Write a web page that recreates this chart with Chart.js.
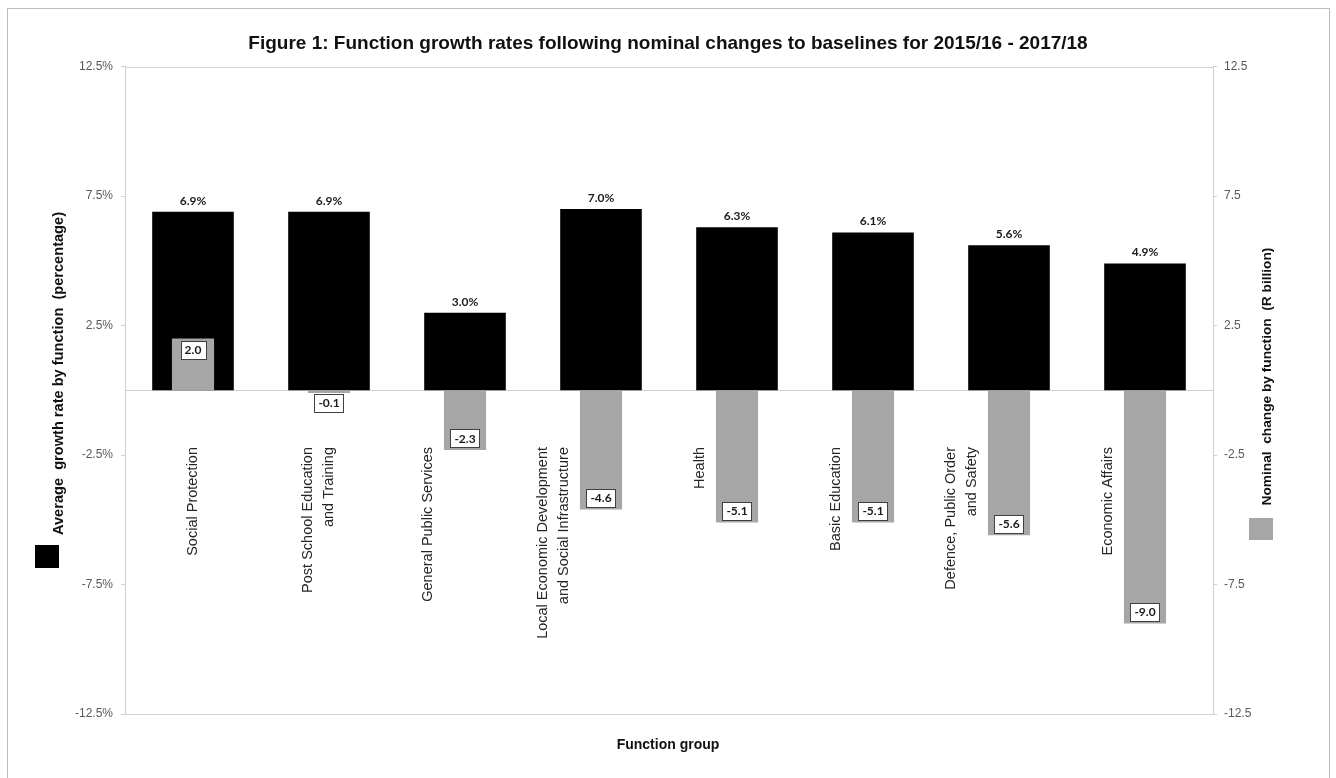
<!DOCTYPE html>
<html><head><meta charset="utf-8">
<script src="https://cdn.jsdelivr.net/npm/chart.js@4.4.0/dist/chart.umd.min.js"></script>
<style>html,body{margin:0;padding:0;background:#fff;} canvas{display:block;}</style>
</head><body>
<canvas id="c" width="1336" height="778"></canvas>
<script>
const categories = [
  ["Social Protection"],
  ["Post School Education", "and Training"],
  ["General Public Services"],
  ["Local Economic Development", "and Social Infrastructure"],
  ["Health"],
  ["Basic Education"],
  ["Defence, Public Order", "and Safety"],
  ["Economic Affairs"]
];
const growthRate = [6.9, 6.9, 3.0, 7.0, 6.3, 6.1, 5.6, 4.9];
const nominalChange = [2.0, -0.1, -2.3, -4.6, -5.1, -5.1, -5.6, -9.0];
const axisTicks = [-12.5, -7.5, -2.5, 2.5, 7.5, 12.5];
const chartTitle = "Figure 1: Function growth rates following nominal changes to baselines for 2015/16 - 2017/18";
const xTitle = "Function group";
const leftLegend = "Average  growth rate by function  (percentage)";
const rightLegend = "Nominal  change by function  (R billion)";

const SANS = "'Liberation Sans', Arial, sans-serif";
const LABEL = "Lato, 'Open Sans', sans-serif";
const labelShift = [0, 0, -37, -37, -37, -37, -37, -37];

const deco = {
  id: 'deco',
  beforeDraw(chart) {
    const ctx = chart.ctx;
    ctx.save();
    ctx.fillStyle = '#fff';
    ctx.fillRect(0, 0, chart.width, chart.height);
    ctx.strokeStyle = '#bdbdbd';
    ctx.lineWidth = 1;
    ctx.strokeRect(7.5, 8.5, 1322, 800);
    const ca = chart.chartArea;
    ctx.strokeStyle = '#d4d4d4';
    ctx.strokeRect(Math.round(ca.left) + 0.5, Math.round(ca.top) + 0.5, Math.round(ca.right - ca.left), Math.round(ca.bottom - ca.top));
    ctx.restore();
  },
  afterDatasetsDraw(chart) {
    const ctx = chart.ctx;
    ctx.save();
    const m1 = chart.getDatasetMeta(1);
    ctx.font = "bold 12px " + LABEL;
    ctx.fillStyle = '#1a1a1a';
    ctx.textAlign = 'center';
    ctx.textBaseline = 'middle';
    m1.data.forEach((bar, i) => {
      ctx.fillText(growthRate[i].toFixed(1) + '%', bar.x, bar.y - 11);
    });
    const m0 = chart.getDatasetMeta(0);
    m0.data.forEach((bar, i) => {
      const txt = nominalChange[i].toFixed(1);
      const len = Math.abs(bar.base - bar.y);
      const dir = Math.sign(bar.y - bar.base) || 1;
      const cy = len >= 24 ? bar.y - dir * 11.5 : bar.base + dir * 12.5;
      const w = ctx.measureText(txt).width + 8;
      const h = 18;
      const x0 = Math.round(bar.x - w / 2) + 0.5, y0 = Math.round(cy - h / 2) + 0.5;
      ctx.fillStyle = '#fff';
      ctx.fillRect(x0, y0, Math.round(w), h);
      ctx.strokeStyle = '#404040';
      ctx.lineWidth = 1;
      ctx.strokeRect(x0, y0, Math.round(w), h);
      ctx.fillStyle = '#1a1a1a';
      ctx.fillText(txt, bar.x, cy + 0.5);
    });
    ctx.restore();
  },
  afterDraw(chart) {
    const ctx = chart.ctx;
    const xs = chart.scales.x;
    ctx.save();
    ctx.font = "14.5px " + SANS;
    ctx.fillStyle = '#262626';
    ctx.textAlign = 'right';
    ctx.textBaseline = 'middle';
    categories.forEach((lines, i) => {
      const cx = xs.getPixelForValue(i) + labelShift[i];
      const n = lines.length;
      lines.forEach((ln, k) => {
        const x = cx - (n - 1 - k) * 21;
        ctx.save();
        ctx.translate(x, 447);
        ctx.rotate(-Math.PI / 2);
        ctx.fillText(ln, 0, 0);
        ctx.restore();
      });
    });
    ctx.fillStyle = '#000';
    ctx.fillRect(35, 545, 24, 23);
    ctx.fillStyle = '#a6a6a6';
    ctx.fillRect(1249, 518, 24, 22);
    ctx.fillStyle = '#111';
    ctx.textAlign = 'center';
    ctx.font = "bold 14.6px " + SANS;
    ctx.save();
    ctx.translate(59, 373.5);
    ctx.rotate(-Math.PI / 2);
    ctx.fillText(leftLegend, 0, 0);
    ctx.restore();
    ctx.font = "bold 13.7px " + SANS;
    ctx.save();
    ctx.translate(1267, 376.5);
    ctx.rotate(-Math.PI / 2);
    ctx.fillText(rightLegend, 0, 0);
    ctx.restore();
    ctx.restore();
  }
};

new Chart(document.getElementById('c'), {
  type: 'bar',
  data: {
    labels: categories.map(c => c.join(' ')),
    datasets: [
      {
        label: rightLegend,
        data: nominalChange,
        yAxisID: 'y1',
        backgroundColor: '#a6a6a6',
        borderWidth: 0,
        grouped: false,
        categoryPercentage: 1,
        barPercentage: 0.31,
        order: 0
      },
      {
        label: leftLegend,
        data: growthRate,
        yAxisID: 'y',
        backgroundColor: '#000',
        borderWidth: 0,
        grouped: false,
        categoryPercentage: 1,
        barPercentage: 0.6,
        order: 1
      }
    ]
  },
  options: {
    responsive: false,
    animation: false,
    layout: { padding: 0 },
    plugins: {
      legend: { display: false },
      tooltip: { enabled: false },
      title: {
        display: true,
        text: chartTitle,
        color: '#111',
        font: { family: SANS, size: 19, weight: 'bold', lineHeight: 1.2 },
        padding: { top: 32.6, bottom: 11.3 }
      },
      subtitle: {
        display: true,
        position: 'bottom',
        text: xTitle,
        color: '#111',
        font: { family: SANS, size: 14, weight: 'bold', lineHeight: 1.2 },
        padding: { top: 22.6, bottom: 24.6 }
      }
    },
    scales: {
      x: {
        type: 'category',
        position: { y: 0 },
        grid: { display: false },
        border: { display: true, color: '#d0d0d0' },
        ticks: { display: false }
      },
      y: {
        position: 'left',
        min: -12.5, max: 12.5,
        afterBuildTicks: s => { s.ticks = axisTicks.map(v => ({ value: v })); },
        afterFit: s => { s.width = 125; },
        grid: { drawOnChartArea: false, drawTicks: true, tickLength: 4, color: '#d0d0d0' },
        border: { display: true, color: '#d0d0d0' },
        ticks: {
          padding: 8,
          color: '#595959',
          font: { family: SANS, size: 12 },
          callback: v => v.toFixed(1) + '%'
        }
      },
      y1: {
        position: 'right',
        min: -12.5, max: 12.5,
        afterBuildTicks: s => { s.ticks = axisTicks.map(v => ({ value: v })); },
        afterFit: s => { s.width = 123; },
        grid: { drawOnChartArea: false, drawTicks: true, tickLength: 4, color: '#d0d0d0' },
        border: { display: true, color: '#d0d0d0' },
        ticks: {
          padding: 7,
          color: '#595959',
          font: { family: SANS, size: 12 },
          callback: v => v.toFixed(1)
        }
      }
    }
  },
  plugins: [deco]
});
</script>
</body></html>
